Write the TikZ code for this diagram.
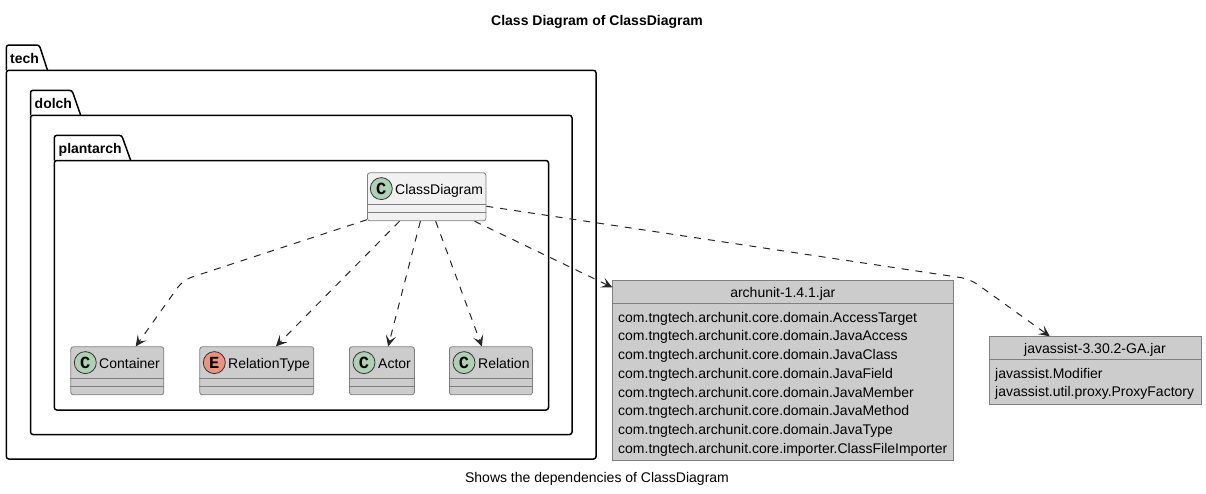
\documentclass[tikz,border=0pt]{standalone}
\usepackage{fontspec}
\setmainfont{Liberation Sans}
\setmonofont{Liberation Mono}
\usetikzlibrary{%
  arrows.meta,%
  positioning,% wg. " of "
  calc
}
\definecolor{classgray}{HTML}{CCCCCC}
\definecolor{classlight}{HTML}{F1F1F1}
\definecolor{classline}{HTML}{7F7F7F}
\definecolor{spotc}{HTML}{ADD1B2}
\definecolor{spote}{HTML}{EB937F}
\begin{document}
\begin{tikzpicture}
  [
  x=1pt, y=-1pt,
  font=\fontsize{14}{16}\selectfont,
  pkgline/.style={line width=1.5pt, draw=black, rounded corners=2.5pt},
  pkgname/.style={anchor=base west, inner sep=0pt, font=\fontsize{14}{16}\selectfont\bfseries},
  classbox/.style={rectangle, draw=classline, line width=0.8pt, fill=classgray, rounded corners=2.5pt, inner sep=0pt, anchor=north west},
  jarbox/.style={rectangle, draw=classline, line width=0.8pt, fill=classgray, inner sep=0pt, anchor=north west},
  rowline/.style={draw=classline, line width=0.8pt},
  spot/.style={circle, inner sep=0pt, minimum size=22pt, draw=black!80, line width=0.8pt, fill=spotc, font=\fontsize{17}{19}\ttfamily\bfseries},
  classname/.style={anchor=base west, inner sep=0pt},
  dep/.style={-{Stealth[length=11pt, width=10.5pt, inset=5pt]}, line width=1pt, draw=black!85, dash pattern=on 7pt off 7pt, rounded corners=9pt},
  ]

  \useasboundingbox (0,0) rectangle (1206,493);

  \node[font=\fontsize{14}{16}\selectfont\bfseries, inner sep=0pt] (title) at (597,22) {Class Diagram of ClassDiagram};
  \node[inner sep=0pt] (caption) at (597,479) {Shows the dependencies of ClassDiagram};

  % packages
  \draw[pkgline] (6.3,70.3) -- (6.3,45) -- (39.3,45) -- (47.5,70.3);
  \draw[pkgline] (6.3,70.3) -- (596,70.3) -- (596,459) -- (6.3,459) -- cycle;
  \node[pkgname] (tech) at (10,63) {tech};
  \draw[pkgline] (30.5,115.3) -- (30.5,90.3) -- (72,90.3) -- (80.7,115.3);
  \draw[pkgline] (30.5,115.3) -- (572,115.3) -- (572,434.5) -- (30.5,434.5) -- cycle;
  \node[pkgname] (dolch) at (34.5,108) {dolch};
  \draw[pkgline] (54.3,160.5) -- (54.3,135.3) -- (121.7,135.3) -- (130.7,160.5);
  \draw[pkgline] (54.3,160.5) -- (548.5,160.5) -- (548.5,410) -- (54.3,410) -- cycle;
  \node[pkgname] (plantarch) at (58.5,153) {plantarch};

  % classes
  \node[classbox, fill=classlight, minimum width=118.5pt, minimum height=48pt] (classdiagram) at (367,172.4) {};
  \node[spot] (classdiagramC) at (381.3,188.6) {C};
  \node[classname] (classdiagramT) at (395,194.5) {ClassDiagram};
  \draw[rowline] (classdiagram.west |- 0,204.4) -- (classdiagram.east |- 0,204.4);
  \draw[rowline] (classdiagram.west |- 0,212.4) -- (classdiagram.east |- 0,212.4);

  \node[classbox, minimum width=93pt, minimum height=48pt] (container) at (70.4,346.4) {};
  \node[spot] (containerC) at (85.3,362.6) {C};
  \node[classname] (containerT) at (99,368.5) {Container};
  \draw[rowline] (container.west |- 0,378.4) -- (container.east |- 0,378.4);
  \draw[rowline] (container.west |- 0,386.4) -- (container.east |- 0,386.4);

  \node[classbox, minimum width=114pt, minimum height=48pt] (relationtype) at (199.4,346.4) {};
  \node[spot, fill=spote] (relationtypeE) at (214.3,362.6) {E};
  \node[classname] (relationtypeT) at (228,368.5) {RelationType};
  \draw[rowline] (relationtype.west |- 0,378.4) -- (relationtype.east |- 0,378.4);
  \draw[rowline] (relationtype.west |- 0,386.4) -- (relationtype.east |- 0,386.4);

  \node[classbox, minimum width=65pt, minimum height=48pt] (actor) at (349,346.4) {};
  \node[spot] (actorC) at (364,362.6) {C};
  \node[classname] (actorT) at (378,368.5) {Actor};
  \draw[rowline] (actor.west |- 0,378.4) -- (actor.east |- 0,378.4);
  \draw[rowline] (actor.west |- 0,386.4) -- (actor.east |- 0,386.4);

  \node[classbox, minimum width=83pt, minimum height=48pt] (relation) at (449,346.4) {};
  \node[spot] (relationC) at (464,362.6) {C};
  \node[classname] (relationT) at (478,368.5) {Relation};
  \draw[rowline] (relation.west |- 0,378.4) -- (relation.east |- 0,378.4);
  \draw[rowline] (relation.west |- 0,386.4) -- (relation.east |- 0,386.4);

  % jars
  \node[jarbox, minimum width=341pt, minimum height=180pt] (archunit) at (612.3,280.3) {};
  \node[inner sep=0pt] (archunitT) at (782.8,293.5) {archunit-1.4.1.jar};
  \draw[rowline] (archunit.west |- 0,303.3) -- (archunit.east |- 0,303.3);
  \node[classname] (archunit1) at (618,322) {com.tngtech.archunit.core.domain.AccessTarget};
  \node[classname] (archunit2) at (618,340.9) {com.tngtech.archunit.core.domain.JavaAccess};
  \node[classname] (archunit3) at (618,359.8) {com.tngtech.archunit.core.domain.JavaClass};
  \node[classname] (archunit4) at (618,378.4) {com.tngtech.archunit.core.domain.JavaField};
  \node[classname] (archunit5) at (618,397.2) {com.tngtech.archunit.core.domain.JavaMember};
  \node[classname] (archunit6) at (618,415.8) {com.tngtech.archunit.core.domain.JavaMethod};
  \node[classname] (archunit7) at (618,434.5) {com.tngtech.archunit.core.domain.JavaType};
  \node[classname] (archunit8) at (618,453.3) {com.tngtech.archunit.core.importer.ClassFileImporter};

  \node[jarbox, minimum width=211.4pt, minimum height=68pt] (javassist) at (989.3,336.3) {};
  \node[inner sep=0pt] (javassistT) at (1095,349.5) {javassist-3.30.2-GA.jar};
  \draw[rowline] (javassist.west |- 0,359) -- (javassist.east |- 0,359);
  \node[classname] (javassist1) at (995,378) {javassist.Modifier};
  \node[classname] (javassist2) at (995,396.7) {javassist.util.proxy.ProxyFactory};

  % dependencies
  \coordinate (bendcontainer) at (183,280);
  \coordinate (bendjavassist) at (970,279);
  \draw[dep] (classdiagram.201) -- (bendcontainer) -- (container.53);
  \draw[dep] (classdiagram.222) -- (relationtype.52);
  \draw[dep] (classdiagram) -- (actor);
  \draw[dep] (classdiagram) -- (relation);
  \draw[dep] (classdiagram.-27) -- (archunit.154);
  \draw[dep] (classdiagram.-9) -- (bendjavassist) -- (javassist.143.5);
\end{tikzpicture}
\end{document}
